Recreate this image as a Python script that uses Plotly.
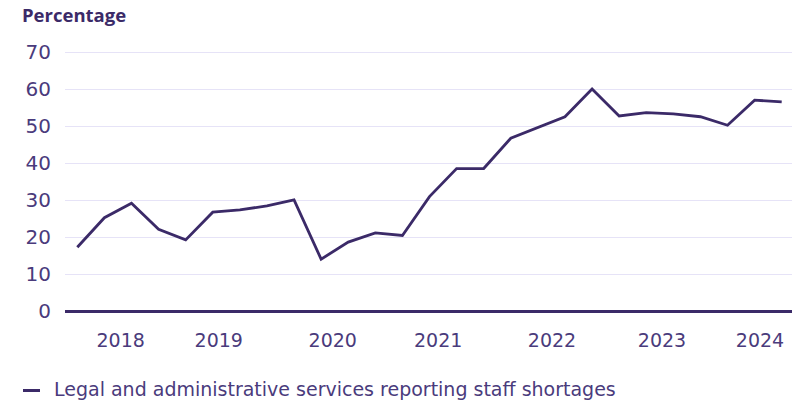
import plotly.graph_objects as go

# Quarterly share of legal and administrative services firms reporting staff shortages (%)
quarters = list(range(27))
shortage_pct = [17.3, 25.3, 29.2, 22.2, 19.3, 26.8, 27.4, 28.5, 30.1,
                14.1, 18.7, 21.2, 20.5, 31.0, 38.6, 38.6, 46.8, 49.8,
                52.6, 60.1, 52.8, 53.7, 53.4, 52.6, 50.3, 57.1, 56.6]

year_labels = ["2018", "2019", "2020", "2021", "2022", "2023", "2024"]
year_tick_pos = [1.6, 5.22, 9.43, 13.32, 17.52, 21.58, 25.2]

y_ticks = [0, 10, 20, 30, 40, 50, 60, 70]

series_name = "Legal and administrative services reporting staff shortages"

LINE = "#3b2a68"
TEXT = "#4a3b7c"
GRID = "#e6e3f7"
FONT = "DejaVu Sans"
TITLE_FONT = "Open Sans"

fig = go.Figure()
fig.add_trace(go.Scatter(
    x=quarters, y=shortage_pct, mode="lines",
    line=dict(color=LINE, width=2.8),
    name=series_name, showlegend=False,
))

fig.update_layout(
    width=792, height=402,
    margin=dict(l=65, r=0, t=45, b=87),
    paper_bgcolor="white", plot_bgcolor="white",
    font=dict(family=FONT, color=TEXT),
    title=dict(
        text="<b>Percentage</b>", xref="container", yref="container",
        x=22 / 792, xanchor="left", y=1 - 16 / 402, yanchor="middle",
        font=dict(family=TITLE_FONT, size=18.5, color="#3b2a68"),
    ),
    xaxis=dict(
        range=[-0.454, 26.38], tickmode="array",
        tickvals=year_tick_pos, ticktext=year_labels,
        showgrid=False, zeroline=False, showline=False,
        ticks="outside", ticklen=8, tickcolor="rgba(0,0,0,0)",
        tickfont=dict(family=FONT, size=19, color=TEXT),
    ),
    yaxis=dict(
        range=[-1, 72], tickmode="array", tickvals=y_ticks,
        showgrid=True, gridcolor=GRID, gridwidth=1.2,
        zeroline=True, zerolinecolor=LINE, zerolinewidth=2.6,
        showline=False,
        ticks="outside", ticklen=9, tickcolor="rgba(0,0,0,0)",
        tickfont=dict(family=FONT, size=20, color=TEXT),
    ),
)

# Legend key drawn below the axis
fig.add_shape(
    type="line", xref="paper", yref="paper",
    x0=(23 - 65) / 727, x1=(40 - 65) / 727,
    y0=-(390.5 - 315) / 270, y1=-(390.5 - 315) / 270,
    line=dict(color=LINE, width=3),
)
fig.add_annotation(
    text=series_name, xref="paper", yref="paper",
    x=(52 - 65) / 727, xanchor="left",
    y=-(388.5 - 315) / 270, yanchor="middle",
    showarrow=False, font=dict(family=FONT, size=19, color=TEXT),
)

fig.write_html("out.html")
